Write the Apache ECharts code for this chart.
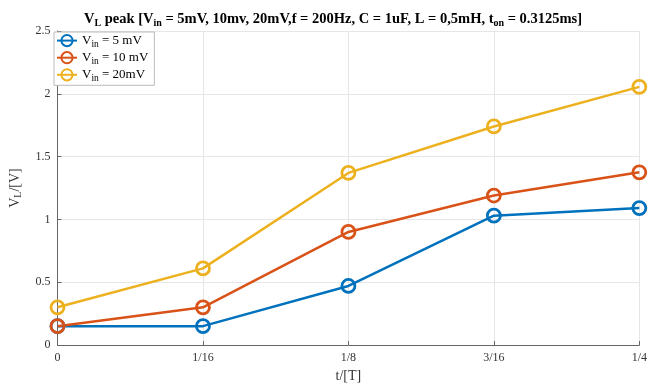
<!DOCTYPE html>
<html><head><meta charset="utf-8">
<script src="https://cdn.jsdelivr.net/npm/echarts@6/dist/echarts.min.js"></script>
<style>html,body{margin:0;padding:0;background:#fff}#c{width:650px;height:388px}</style>
</head><body><div id="c"></div>
<script>
const categories = ['0', '1/16', '1/8', '3/16', '1/4'];
const vin5 = [0.15, 0.15, 0.47, 1.03, 1.09];
const vin10 = [0.15, 0.30, 0.90, 1.19, 1.375];
const vin20 = [0.30, 0.61, 1.37, 1.74, 2.055];
const yTicks = [0, 0.5, 1, 1.5, 2, 2.5];
const seriesNames = ['Vin5', 'Vin10', 'Vin20'];
const legendLabels = {Vin5: ' = 5 mV', Vin10: ' = 10 mV', Vin20: ' = 20mV'};
const colors = ['#0072BD', '#D95319', '#EDB120'];
const FONT = '"Liberation Serif", "Times New Roman", serif';

const chart = echarts.init(document.getElementById('c'), null, {renderer: 'canvas'});
function mk(name, data, color) {
  return {
    name, type: 'line', data, color,
    symbol: 'circle', symbolSize: 13, showSymbol: true,
    lineStyle: {width: 2.5, color},
    itemStyle: {color: 'rgba(255,255,255,0)', borderColor: color, borderWidth: 2.8},
    z: 3
  };
}
chart.setOption({
  animation: false,
  title: {
    text: '{b|V}{sub|L}{b| peak [V}{sub|in}{b| = 5mV, 10mv, 20mV,f = 200Hz, C = 1uF, L = 0,5mH, t}{sub|on}{b| = 0.3125ms]}',
    left: 328, textAlign: 'center', top: 5,
    textStyle: {
      rich: {
        b: {fontFamily: FONT, fontWeight: 'bold', fontSize: 14.5, color: '#000'},
        sub: {fontFamily: FONT, fontWeight: 'bold', fontSize: 10, color: '#000', verticalAlign: 'bottom', padding: [8, 0, 0, 0]}
      }
    }
  },
  legend: {
    orient: 'vertical', left: 54, top: 32,
    backgroundColor: '#fff', borderColor: '#bbb', borderWidth: 1, borderRadius: 0,
    padding: [2, 6, 2, 2], itemGap: 2, itemWidth: 20, itemHeight: 14,
    data: seriesNames,
    formatter: n => '{n|V}{s|in}{n|' + legendLabels[n] + '}',
    textStyle: {
      rich: {
        n: {fontFamily: FONT, fontSize: 13, color: '#000'},
        s: {fontFamily: FONT, fontSize: 9.5, color: '#000', verticalAlign: 'bottom', padding: [7, 0, 0, 0]}
      }
    }
  },
  grid: {left: 56, right: 6, top: 31, bottom: 41, containLabel: false, show: false},
  xAxis: {
    type: 'category', data: categories, boundaryGap: false,
    name: 't/[T]', nameLocation: 'middle', nameGap: 24,
    nameTextStyle: {fontFamily: FONT, fontSize: 14, color: '#333'},
    axisLine: {lineStyle: {color: '#666'}},
    axisTick: {show: true, alignWithLabel: true, inside: true, length: 4, lineStyle: {color: '#666'}},
    axisLabel: {fontFamily: FONT, fontSize: 12, color: '#333', margin: 7},
    splitLine: {show: true, lineStyle: {color: '#e6e6e6'}}
  },
  yAxis: {
    type: 'value', min: 0, max: 2.5, interval: 0.5,
    name: '{n|V}{s|L}{n|/[V]}', nameLocation: 'middle', nameGap: 34, nameRotate: 90,
    nameTextStyle: {rich: {
      n: {fontFamily: FONT, fontSize: 14, color: '#333'},
      s: {fontFamily: FONT, fontSize: 10, color: '#333', verticalAlign: 'bottom', padding: [7, 0, 0, 0]}
    }},
    axisLine: {show: true, lineStyle: {color: '#666'}},
    axisTick: {show: true, inside: true, length: 4, lineStyle: {color: '#666'}},
    axisLabel: {fontFamily: FONT, fontSize: 12, color: '#333', margin: 7,
      formatter: v => yTicks.includes(v) ? String(v) : ''},
    splitLine: {show: true, lineStyle: {color: '#e6e6e6'}}
  },
  series: [mk(seriesNames[0], vin5, colors[0]), mk(seriesNames[1], vin10, colors[1]), mk(seriesNames[2], vin20, colors[2])]
});
</script></body></html>
